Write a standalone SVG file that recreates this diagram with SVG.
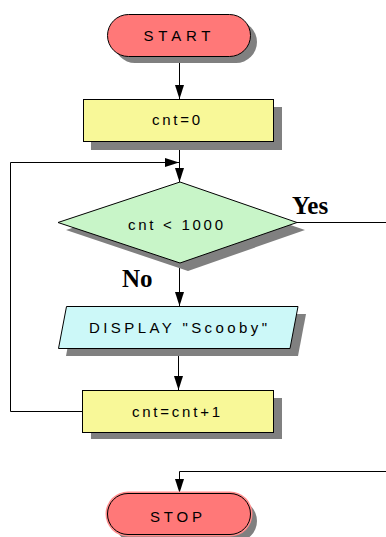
<svg xmlns="http://www.w3.org/2000/svg" width="386" height="537" viewBox="0 0 386 537">
<defs>
<style>
.shadow{fill:#808080;stroke:none}
.term{fill:#FF7878;stroke:#000;stroke-width:1}
.proc{fill:#F8F898;stroke:#000;stroke-width:1}
.dec{fill:#C8F5C8;stroke:#000;stroke-width:1}
.io{fill:#CCF8F8;stroke:#000;stroke-width:1}
.lbl{font-family:"Liberation Sans",Arial,sans-serif;font-size:15px;fill:#000;text-anchor:middle}
.big{font-family:"Liberation Serif","Times New Roman",serif;font-size:25px;font-weight:bold;fill:#000}
.conn{fill:none;stroke:#000;stroke-width:1}
</style>
<marker id="arr" viewBox="0 0 14 9" refX="14" refY="4.5" markerWidth="14" markerHeight="9" markerUnits="userSpaceOnUse" orient="auto">
<path d="M0,0 L14,4.5 L0,9 z" fill="#000"/>
</marker>
</defs>
<rect width="386" height="537" fill="#fff"/>

<g id="connectors">
<path class="conn" d="M179.5,56 V99" marker-end="url(#arr)"/>
<path class="conn" d="M179.5,141 V182" marker-end="url(#arr)"/>
<path class="conn" d="M83,411.5 H10.5 V162.5 H179" marker-end="url(#arr)"/>
<path class="conn" d="M179.5,263 V306" marker-end="url(#arr)"/>
<path class="conn" d="M178.5,348 V390" marker-end="url(#arr)"/>
<path class="conn" d="M297,222.5 H386"/>
<path class="conn" d="M386,471.5 H179.5 V493" marker-end="url(#arr)"/>
</g>

<g id="start">
<rect class="shadow" x="114" y="21" width="143" height="42" rx="21"/>
<rect class="term" x="107.5" y="14.5" width="143" height="42" rx="21"/>
<text class="lbl" x="177" y="41" textLength="67" lengthAdjust="spacing">START</text>
</g>

<g id="init">
<rect class="shadow" x="91" y="107" width="191" height="43"/>
<rect class="proc" x="83.5" y="99.5" width="190" height="42"/>
<text class="lbl" x="176" y="125" textLength="48" lengthAdjust="spacing">cnt=0</text>
</g>

<g id="decision">
<polygon class="shadow" points="66,230 188,190 305,230 188,271"/>
<polygon class="dec" points="58,222.5 180,182 297,222.5 180,263"/>
<text class="lbl" x="175.5" y="230" textLength="95" lengthAdjust="spacing">cnt &lt; 1000</text>
</g>

<g id="labels">
<text class="big" x="292" y="214">Yes</text>
<text class="big" x="122" y="287">No</text>
</g>

<g id="display">
<polygon class="shadow" points="74,314 306,314 298,356 66,356"/>
<polygon class="io" points="66.5,306.5 298,306.5 290,348.5 58.5,348.5"/>
<text class="lbl" x="178" y="333" textLength="178" lengthAdjust="spacing">DISPLAY "Scooby"</text>
</g>

<g id="increment">
<rect class="shadow" x="91" y="398" width="191" height="41"/>
<rect class="proc" x="82.5" y="390.5" width="191" height="42"/>
<text class="lbl" x="176" y="417" textLength="88" lengthAdjust="spacing">cnt=cnt+1</text>
</g>

<g id="stop">
<rect class="shadow" x="114" y="500" width="143" height="42" rx="21"/>
<rect x="105.5" y="491.5" width="147" height="45" rx="22.5" fill="#FF8C8C"/>
<rect class="term" x="107.5" y="493.5" width="143" height="41" rx="20.5"/>
<text class="lbl" x="176" y="522" textLength="52" lengthAdjust="spacing">STOP</text>
</g>
</svg>
